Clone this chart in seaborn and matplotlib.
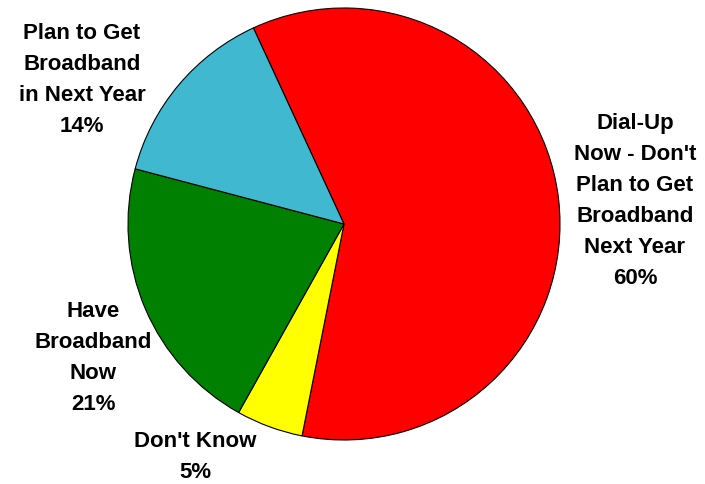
import matplotlib
matplotlib.use("Agg")
import matplotlib.pyplot as plt
import seaborn as sns

# slices, in clockwise order starting from the top-left edge of the red slice
labels = ["Dial-Up\nNow - Don't\nPlan to Get\nBroadband\nNext Year",
          "Don't Know",
          "Have\nBroadband\nNow",
          "Plan to Get\nBroadband\nin Next Year"]
shares = [60, 5, 21, 14]
colors = ["#FF0000", "#FFFF00", "#008000", "#40B8D0"]

# label anchor spots (data units, pie radius = 1)
label_pos = [(1.347, 0.110), (-0.690, -1.074), (-1.162, -0.616), (-1.213, 0.671)]

sns.set_theme(style="white")
plt.rcParams["font.family"] = ["Liberation Sans", "DejaVu Sans"]

fig = plt.figure(figsize=(7.05, 4.85), dpi=100)
ax = fig.add_axes([0, 0, 1, 1])

ax.pie(shares, colors=colors, startangle=114.8, counterclock=False,
       radius=1.0, wedgeprops={"edgecolor": "black", "linewidth": 0.8})

for lab, val, (x, y) in zip(labels, shares, label_pos):
    ax.text(x, y, f"{lab}\n{val}%", ha="center", va="center",
            fontsize=16, fontweight="bold", linespacing=1.62, color="black")

# keep pie centred at (344, 225) px with radius ~216 px
ax.set_xlim(-344 / 216, (705 - 344) / 216)
ax.set_ylim(-(485 - 225) / 216, 225 / 216)
ax.set_aspect("equal")
ax.axis("off")

fig.savefig("out.png", dpi=100)
